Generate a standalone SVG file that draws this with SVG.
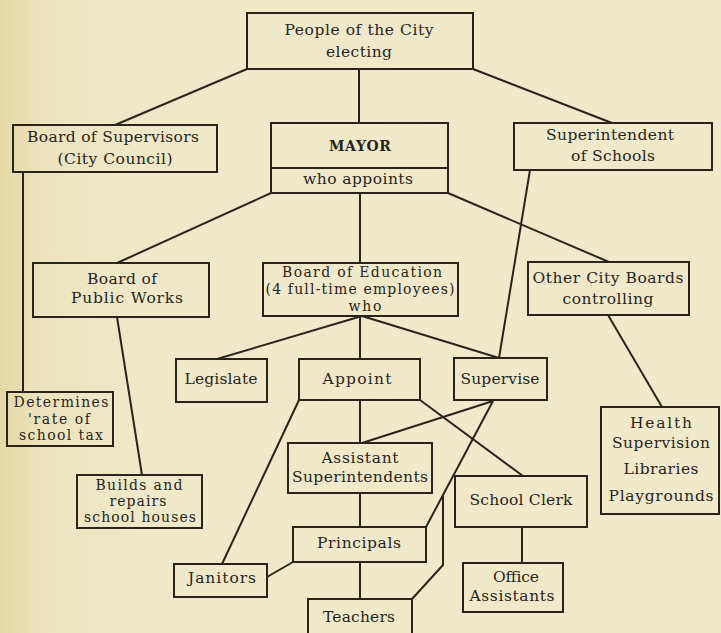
<svg xmlns="http://www.w3.org/2000/svg" width="721" height="633" viewBox="0 0 721 633">
<defs>
<linearGradient id="bg" x1="0" y1="0" x2="1" y2="0">
<stop offset="0" stop-color="#E4D8A6"/>
<stop offset="0.06" stop-color="#ECE4BF"/>
<stop offset="0.2" stop-color="#EFE9C9"/>
<stop offset="1" stop-color="#F0EACB"/>
</linearGradient>
<style>
.box{fill:none;stroke:#2A2519;stroke-width:2}
.ln{fill:none;stroke:#2A2519;stroke-width:2;stroke-linejoin:miter}
text{font-family:"DejaVu Serif","Liberation Serif",serif;font-size:15.5px;fill:#2A2519;text-anchor:middle}
.s{font-size:14px}
.b{font-weight:bold;font-size:14px}
</style>
</defs>
<rect x="0" y="0" width="721" height="633" fill="url(#bg)"/>
<g id="connectors">
<line class="ln" x1="247" y1="69" x2="115" y2="125"/>
<line class="ln" x1="359" y1="69" x2="359" y2="123"/>
<line class="ln" x1="473" y1="69" x2="612" y2="123"/>
<line class="ln" x1="23" y1="172" x2="23" y2="392"/>
<line class="ln" x1="271" y1="193" x2="117" y2="263"/>
<line class="ln" x1="360" y1="193" x2="360" y2="263"/>
<line class="ln" x1="448" y1="193" x2="609" y2="262"/>
<line class="ln" x1="530" y1="170" x2="499" y2="358"/>
<line class="ln" x1="117" y1="317" x2="142" y2="475"/>
<line class="ln" x1="362" y1="316" x2="217" y2="359"/>
<line class="ln" x1="360" y1="316" x2="360" y2="359"/>
<line class="ln" x1="362" y1="316" x2="499" y2="358"/>
<line class="ln" x1="608" y1="315" x2="662" y2="407"/>
<line class="ln" x1="299" y1="400" x2="222" y2="564"/>
<line class="ln" x1="360" y1="400" x2="360" y2="443"/>
<line class="ln" x1="420" y1="400" x2="523" y2="476"/>
<line class="ln" x1="493" y1="401" x2="362" y2="443"/>
<line class="ln" x1="493" y1="401" x2="426" y2="527"/>
<polyline class="ln" points="442,497 443,497 443,565 412,599"/>
<line class="ln" x1="360" y1="493" x2="360" y2="527"/>
<line class="ln" x1="360" y1="562" x2="360" y2="599"/>
<line class="ln" x1="267" y1="577" x2="293" y2="562"/>
<line class="ln" x1="522" y1="527" x2="522" y2="563"/>
</g>
<g id="people">
<rect class="box" x="247" y="13" width="226" height="56"/>
<text x="359" y="35" textLength="149">People of the City</text>
<text x="359" y="57" textLength="66">electing</text>
</g>
<g id="supervisors">
<rect class="box" x="13" y="125" width="204" height="47"/>
<text x="113" y="142" textLength="172">Board of Supervisors</text>
<text x="115" y="164" textLength="115">(City Council)</text>
</g>
<g id="mayor">
<rect class="box" x="271" y="123" width="177" height="70"/>
<line class="ln" x1="271" y1="168" x2="448" y2="168"/>
<text class="b" x="360" y="151" textLength="62">MAYOR</text>
<text x="358" y="184" textLength="110">who appoints</text>
</g>
<g id="superintendent">
<rect class="box" x="514" y="123" width="198" height="47"/>
<text x="610" y="140" textLength="128">Superintendent</text>
<text x="613" y="161" textLength="84">of Schools</text>
</g>
<g id="public-works">
<rect class="box" x="33" y="263" width="176" height="54"/>
<text x="122" y="284" textLength="70">Board of</text>
<text x="127" y="303" textLength="112">Public Works</text>
</g>
<g id="education">
<rect class="box" x="263" y="263" width="195" height="53"/>
<text class="s" x="362" y="277" textLength="160">Board of Education</text>
<text class="s" x="360" y="294" textLength="189">(4 full-time employees)</text>
<text class="s" x="365" y="311" textLength="33">who</text>
</g>
<g id="other-boards">
<rect class="box" x="528" y="262" width="161" height="53"/>
<text x="608" y="283" textLength="151">Other City Boards</text>
<text x="608" y="304" textLength="91">controlling</text>
</g>
<g id="legislate">
<rect class="box" x="176" y="359" width="91" height="43"/>
<text x="221" y="384" textLength="73">Legislate</text>
</g>
<g id="appoint">
<rect class="box" x="299" y="359" width="121" height="41"/>
<text x="357" y="384" textLength="69">Appoint</text>
</g>
<g id="supervise">
<rect class="box" x="454" y="358" width="93" height="42"/>
<text x="500" y="384" textLength="79">Supervise</text>
</g>
<g id="determines">
<rect class="box" x="7" y="392" width="106" height="54"/>
<text class="s" x="61" y="407" textLength="95">Determines</text>
<text class="s" x="59" y="424" textLength="62">'rate of</text>
<text class="s" x="61" y="440" textLength="84">school tax</text>
</g>
<g id="builds">
<rect class="box" x="77" y="475" width="125" height="53"/>
<text class="s" x="139" y="490" textLength="87">Builds and</text>
<text class="s" x="138" y="506" textLength="57">repairs</text>
<text class="s" x="140" y="522" textLength="112">school houses</text>
</g>
<g id="health">
<rect class="box" x="601" y="407" width="118" height="107"/>
<text x="661" y="428" textLength="62">Health</text>
<text x="661" y="448" textLength="98">Supervision</text>
<text x="661" y="474" textLength="75">Libraries</text>
<text x="661" y="501" textLength="105">Playgrounds</text>
</g>
<g id="assistant-superintendents">
<rect class="box" x="288" y="443" width="144" height="50"/>
<text x="360" y="463" textLength="77">Assistant</text>
<text x="360" y="482" textLength="136">Superintendents</text>
</g>
<g id="school-clerk">
<rect class="box" x="455" y="476" width="132" height="51"/>
<text x="521" y="505" textLength="103">School Clerk</text>
</g>
<g id="principals">
<rect class="box" x="293" y="527" width="133" height="35"/>
<text x="359" y="548" textLength="84">Principals</text>
</g>
<g id="janitors">
<rect class="box" x="174" y="564" width="93" height="33"/>
<text x="222" y="583" textLength="68">Janitors</text>
</g>
<g id="office-assistants">
<rect class="box" x="463" y="563" width="100" height="49"/>
<text x="516" y="582" textLength="46">Office</text>
<text x="512" y="601" textLength="85">Assistants</text>
</g>
<g id="teachers">
<rect class="box" x="308" y="599" width="104" height="50"/>
<text x="359" y="622" textLength="72">Teachers</text>
</g>
</svg>
